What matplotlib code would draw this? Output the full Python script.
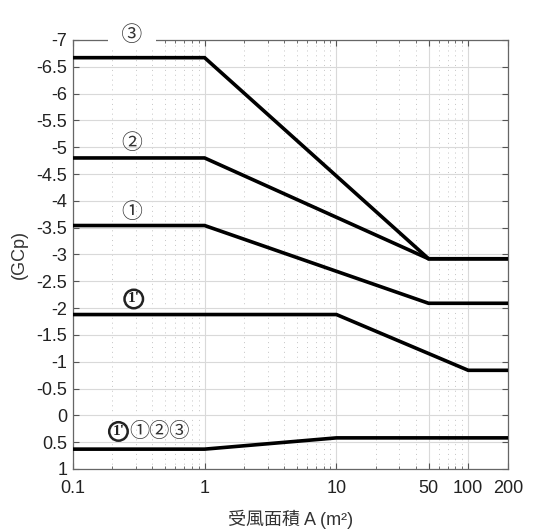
import matplotlib
matplotlib.use("Agg")
import matplotlib.pyplot as plt
from matplotlib.ticker import LogLocator, NullFormatter

plt.rcParams['font.family'] = ['Liberation Sans', 'Noto Sans CJK TC', 'DejaVu Sans']

# data
area_3 = [0.1, 1, 50, 200]
gcp_3 = [-6.67, -6.67, -2.92, -2.92]
area_2 = [0.1, 1, 50, 200]
gcp_2 = [-4.80, -4.80, -2.92, -2.92]
area_1 = [0.1, 1, 50, 200]
gcp_1 = [-3.54, -3.54, -2.09, -2.09]
area_1p = [0.1, 10, 100, 200]
gcp_1p = [-1.88, -1.88, -0.84, -0.84]
area_pos = [0.1, 1, 10, 200]
gcp_pos = [0.63, 0.63, 0.42, 0.42]

xticks = [0.1, 1, 10, 50, 100, 200]
xticklabels = ["0.1", "1", "10", "50", "100", "200"]
yticks = [-7, -6.5, -6, -5.5, -5, -4.5, -4, -3.5, -3, -2.5, -2, -1.5, -1, -0.5, 0, 0.5, 1]
yticklabels = ["-7", "-6.5", "-6", "-5.5", "-5", "-4.5", "-4", "-3.5", "-3", "-2.5",
               "-2", "-1.5", "-1", "-0.5", "0", "0.5", "1"]

fig = plt.figure(figsize=(5.6, 5.31), dpi=100)
ax = fig.add_axes([0.130, 0.1168, 0.777, 0.8079])

for xs, ys in [(area_3, gcp_3), (area_2, gcp_2), (area_1, gcp_1),
               (area_1p, gcp_1p), (area_pos, gcp_pos)]:
    ax.plot(xs, ys, color='black', lw=2.6, solid_joinstyle='miter', zorder=3)

ax.set_xscale('log')
ax.set_xlim(0.1, 200)
ax.set_ylim(1, -7)
ax.set_xticks(xticks)
ax.set_xticklabels(xticklabels)
ax.xaxis.set_minor_locator(LogLocator(base=10, subs=range(2, 10), numticks=20))
ax.xaxis.set_minor_formatter(NullFormatter())
ax.set_yticks(yticks)
ax.set_yticklabels(yticklabels)

ax.grid(True, which='major', color='#d9d9d9', lw=0.8, zorder=0)
ax.grid(True, which='minor', axis='x', color='#c4c4c4', lw=0.7, ls=(0, (1, 4)), zorder=0)

ax.tick_params(which='both', direction='in', top=True, right=True, colors='#555555',
               labelcolor='#222222', labelsize=13)
ax.tick_params(which='major', length=4)
ax.tick_params(axis='y', which='major', pad=4)
ax.tick_params(axis='x', which='major', pad=8)
ax.tick_params(which='minor', length=2.5)
for s in ax.spines.values():
    s.set_color('#666666')
    s.set_linewidth(0.9)

ax.set_ylabel('(GCp)', fontsize=13, color='#333333')
ax.yaxis.set_label_coords(-0.103, 0.5)
ax.set_xlabel('受風面積 A (m²)', fontsize=13, color='#333333', labelpad=9)

circ_font = ['Noto Sans CJK TC', 'DejaVu Sans']
ax.text(0.28, -7.1, '\u2002③\u2002', fontsize=15, family=circ_font, ha='center', va='center',
        color='#333333', zorder=5, clip_on=False,
        bbox=dict(boxstyle='square,pad=0.15', fc='white', ec='none'))
ax.text(0.28, -5.08, '②', fontsize=15, family=circ_font, ha='center', va='center',
        color='#333333', zorder=5)
ax.text(0.28, -3.80, '①', fontsize=15, family=circ_font, ha='center', va='center',
        color='#333333', zorder=5)


def one_prime(x, y):
    ax.text(x, y, "1'", fontsize=11, family='Liberation Serif', fontweight='bold',
            ha='center', va='center', color='#222222', zorder=5,
            bbox=dict(boxstyle='circle,pad=0.18', fc='white', ec='#222222', lw=1.8))


one_prime(0.29, -2.17)
one_prime(0.222, 0.30)
ax.text(0.268, 0.30, '①②③', fontsize=14.5, family=circ_font, ha='left', va='center',
        color='#333333', zorder=5)

fig.savefig('out.png', dpi=100)
